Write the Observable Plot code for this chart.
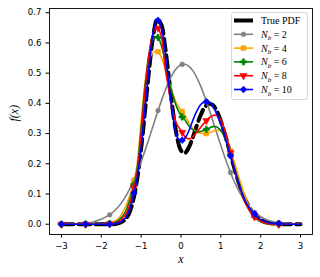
<!DOCTYPE html>
<html><head><meta charset="utf-8">
<script src="https://cdn.jsdelivr.net/npm/d3@7"></script>
<script src="https://cdn.jsdelivr.net/npm/@observablehq/plot@0.6"></script>
<style>html,body{margin:0;padding:0;background:#fff}svg{display:block}</style>
</head><body><div id="chart"></div>
<script>
const xs = [-3, -2.6, -2.2, -1.8, -1.6, -1.4, -1.3, -1.2, -1.1, -1.0, -0.9, -0.8, -0.7, -0.6, -0.5, -0.4, -0.3, -0.2, -0.1, 0, 0.1, 0.2, 0.3, 0.4, 0.5, 0.6, 0.7, 0.8, 0.9, 1.0, 1.1, 1.2, 1.3, 1.4, 1.6, 1.8, 2.0, 2.2, 2.6, 3.0];
const truePdf = [0, 0, 0, 0.0002, 0.002, 0.016, 0.037, 0.079, 0.149, 0.251, 0.379, 0.512, 0.621, 0.676, 0.662, 0.588, 0.480, 0.371, 0.289, 0.244, 0.236, 0.255, 0.289, 0.328, 0.363, 0.388, 0.399, 0.394, 0.374, 0.341, 0.299, 0.252, 0.204, 0.158, 0.085, 0.039, 0.015, 0.005, 0.0003, 0];
const nb2 = [0.0002, 0.0015, 0.0077, 0.030, 0.0535, 0.0897, 0.1134, 0.1408, 0.1721, 0.2068, 0.2446, 0.2845, 0.3256, 0.3665, 0.4058, 0.442, 0.4736, 0.4992, 0.5175, 0.5279, 0.5296, 0.5227, 0.5075, 0.4846, 0.4553, 0.4207, 0.3825, 0.342, 0.3009, 0.2604, 0.2217, 0.1856, 0.1528, 0.1239, 0.0774, 0.0453, 0.0248, 0.0127, 0.0028, 0.0005];
const nb4 = [0, 0, 0, 0.003, 0.015, 0.055, 0.09, 0.13, 0.20, 0.34, 0.47, 0.545, 0.568, 0.572, 0.555, 0.515, 0.47, 0.43, 0.397, 0.378, 0.36, 0.335, 0.316, 0.306, 0.301, 0.300, 0.302, 0.307, 0.311, 0.308, 0.29, 0.26, 0.222, 0.178, 0.095, 0.035, 0.008, 0, 0, 0];
const nb6 = [0, 0, 0, 0.002, 0.01, 0.04, 0.075, 0.12, 0.185, 0.32, 0.46, 0.565, 0.612, 0.622, 0.595, 0.54, 0.475, 0.425, 0.385, 0.36, 0.345, 0.325, 0.312, 0.306, 0.307, 0.312, 0.318, 0.323, 0.322, 0.31, 0.285, 0.25, 0.205, 0.16, 0.08, 0.03, 0.008, 0, 0, 0];
const nb8 = [0, 0, 0, 0.001, 0.006, 0.03, 0.06, 0.11, 0.17, 0.30, 0.45, 0.565, 0.632, 0.652, 0.625, 0.52, 0.44, 0.37, 0.33, 0.31, 0.29, 0.282, 0.29, 0.305, 0.322, 0.338, 0.352, 0.36, 0.36, 0.345, 0.31, 0.26, 0.205, 0.155, 0.075, 0.03, 0.01, 0.002, 0, 0];
const nb10 = [0, 0, 0, 0, 0.003, 0.02, 0.045, 0.092, 0.155, 0.255, 0.39, 0.525, 0.635, 0.68, 0.655, 0.57, 0.46, 0.355, 0.29, 0.275, 0.285, 0.31, 0.345, 0.375, 0.397, 0.405, 0.406, 0.39, 0.365, 0.33, 0.29, 0.245, 0.2, 0.155, 0.08, 0.04, 0.015, 0.005, 0.001, 0];

const markX = [-3, -2.394, -1.788, -1.182, -0.576, 0.030, 0.636, 1.242, 1.848, 2.455];
const nb2M = [0.0002, 0.0036, 0.031, 0.146, 0.376, 0.529, 0.407, 0.171, 0.039, 0.005];
const nb4M = [0, 0, 0.003, 0.143, 0.571, 0.373, 0.300, 0.244, 0.029, 0];
const nb6M = [0, 0, 0.002, 0.132, 0.618, 0.355, 0.314, 0.231, 0.025, 0];
const nb8M = [0, 0, 0.001, 0.121, 0.649, 0.304, 0.343, 0.237, 0.025, 0];
const nb10M = [0, 0, 0, 0.103, 0.675, 0.278, 0.405, 0.226, 0.034, 0.003];

const xTicks = [-3, -2, -1, 0, 1, 2, 3];
const yTicks = [0, 0.1, 0.2, 0.3, 0.4, 0.5, 0.6, 0.7];
const labels = ["True PDF", "N_b = 2", "N_b = 4", "N_b = 6", "N_b = 8", "N_b = 10"];

const series = [
  {name: labels[1], line: nb2, marks: nb2M, color: "gray", symbol: "circle", rotate: 0},
  {name: labels[2], line: nb4, marks: nb4M, color: "orange", symbol: "square", rotate: 0},
  {name: labels[3], line: nb6, marks: nb6M, color: "green", symbol: "cross", rotate: 0},
  {name: labels[4], line: nb8, marks: nb8M, color: "red", symbol: "triangle", rotate: 180},
  {name: labels[5], line: nb10, marks: nb10M, color: "blue", symbol: "square", rotate: 45}
];

const trueRows = xs.map((x, i) => ({x, y: truePdf[i]}));
const marks = [
  Plot.axisX({ticks: xTicks, tickSize: 3.5, tickPadding: 5, tickFormat: "d", label: null}),
  Plot.axisY({ticks: yTicks, tickSize: 3.5, tickPadding: 4.5, tickFormat: ".1f", label: null}),
  Plot.line(trueRows, {x: "x", y: "y", stroke: "black", strokeWidth: 4, strokeDasharray: "12,5", curve: "catmull-rom"})
];
for (const s of series) {
  const rows = xs.map((x, i) => ({x, y: s.line[i]}));
  const mrows = markX.map((x, i) => ({x, y: s.marks[i]}));
  marks.push(Plot.line(rows, {x: "x", y: "y", stroke: s.color, strokeWidth: 1.6, curve: "catmull-rom"}));
  marks.push(Plot.dot(mrows, {x: "x", y: "y", fill: s.color, stroke: s.color, strokeWidth: 0.5, symbol: s.symbol, r: s.symbol === "circle" ? 2.4 : 2.7, rotate: s.rotate}));
}
marks.push(Plot.frame({stroke: "black", strokeWidth: 0.9}));
marks.push(Plot.text(["f(x)"], {frameAnchor: "left", dx: -35, rotate: -90, fontFamily: "Liberation Serif", fontStyle: "italic", fontSize: 12, fill: "black"}));
marks.push(Plot.text(["x"], {frameAnchor: "bottom", dy: 28, fontFamily: "Liberation Serif", fontStyle: "italic", fontSize: 12, fill: "black"}));

const chart = Plot.plot({
  width: 320, height: 277,
  marginLeft: 49, marginRight: 8, marginTop: 8, marginBottom: 43,
  x: {domain: [-3.3, 3.3]},
  y: {domain: [-0.034, 0.714]},
  style: {fontFamily: "DejaVu Sans", fontSize: "8.6px", color: "black", background: "white", overflow: "visible"},
  marks
});
document.getElementById("chart").appendChild(chart);

// legend
const svg = d3.select(chart);
const lg = svg.append("g").attr("class", "legend").attr("text-anchor", "start");
lg.append("rect").attr("x", 231.5).attr("y", 12.5).attr("width", 76).attr("height", 87)
  .attr("rx", 2).attr("fill", "white").attr("fill-opacity", 0.8).attr("stroke", "#cccccc").attr("stroke-width", 0.8);
const entries = [{name: labels[0], color: "black", symbol: null}].concat(series.map(s => ({name: s.name, color: s.color, symbol: s.symbol, rotate: s.rotate})));
entries.forEach((e, i) => {
  const y = 20.5 + i * 13.8;
  if (!e.symbol) {
    lg.append("line").attr("x1", 234).attr("x2", 253).attr("y1", y).attr("y2", y).attr("stroke", "black").attr("stroke-width", 4);
  } else {
    lg.append("line").attr("x1", 234).attr("x2", 253).attr("y1", y).attr("y2", y).attr("stroke", e.color).attr("stroke-width", 1.6);
    const symMap = {circle: d3.symbolCircle, square: d3.symbolSquare, cross: d3.symbolCross, triangle: d3.symbolTriangle};
    const r = e.symbol === "circle" ? 2.4 : 2.7;
    lg.append("path").attr("d", d3.symbol(symMap[e.symbol], Math.PI * r * r)())
      .attr("transform", `translate(243.5,${y}) rotate(${e.rotate || 0})`).attr("fill", e.color).attr("stroke", e.color).attr("stroke-width", 0.5);
  }
  const t = lg.append("text").attr("x", 261).attr("y", y).attr("dy", "0.35em").attr("text-anchor", "start")
    .attr("font-family", "Liberation Serif").attr("font-size", 10).attr("fill", "black");
  if (e.name.startsWith("N_b")) {
    t.append("tspan").attr("font-style", "italic").text("N");
    t.append("tspan").attr("font-style", "italic").attr("font-size", 7).attr("dy", "2.5").text("b");
    t.append("tspan").attr("dy", "-2.5").text(" = " + e.name.split("= ")[1]);
  } else {
    t.text(e.name);
  }
});
</script></body></html>
